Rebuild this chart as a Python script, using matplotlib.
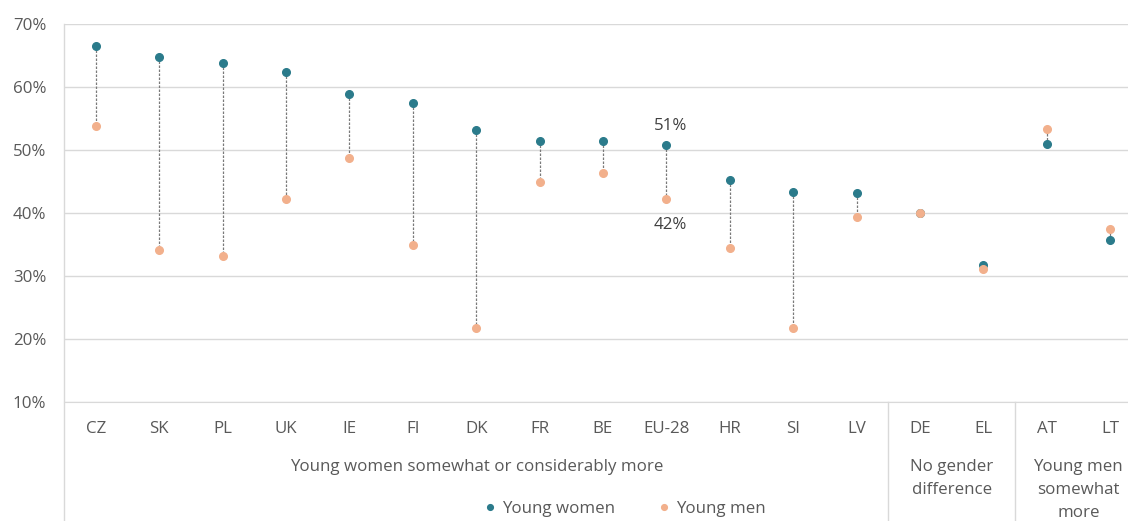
import matplotlib
matplotlib.use("Agg")
import matplotlib.pyplot as plt
from matplotlib.lines import Line2D

countries = ["CZ", "SK", "PL", "UK", "IE", "FI", "DK", "FR", "BE", "EU-28",
             "HR", "SI", "LV", "DE", "EL", "AT", "LT"]
young_women = [66.5, 64.8, 63.8, 62.4, 58.9, 57.5, 53.2, 51.5, 51.4, 50.8,
               45.2, 43.3, 43.2, 40.0, 31.7, 50.9, 35.7]
young_men = [53.8, 34.2, 33.2, 42.2, 48.7, 35.0, 21.7, 45.0, 46.3, 42.3,
             34.4, 21.7, 39.4, 40.05, 31.1, 53.4, 37.4]
groups = ["Young women somewhat or considerably more",
          "No gender\ndifference",
          "Young men\nsomewhat\nmore"]
group_spans = [(0, 12), (13, 14), (15, 16)]
yticks = [10, 20, 30, 40, 50, 60, 70]
eu_labels = ["51%", "42%"]

plt.rcParams['font.family'] = ['Open Sans', 'DejaVu Sans']

W, H = 1128, 521
fig = plt.figure(figsize=(W / 100, H / 100), dpi=100)
left_px, right_px = 64.3, 1141.7
top_px, bot_px = 24, 402
ax = fig.add_axes([left_px / W, (H - bot_px) / H,
                   (right_px - left_px) / W, (bot_px - top_px) / H])

teal = "#2b7b8b"
peach = "#f2b08c"
grid_c = "#d9d9d9"
txt_c = "#595959"
fs = 12.2

x = list(range(len(countries)))
for xi, w, m in zip(x, young_women, young_men):
    ax.plot([xi, xi], [w, m], color="#7a7a7a", lw=0.9, ls=(0, (2, 1.2)), zorder=2)
ax.plot(x, young_women, 'o', color=teal, ms=5.5, ls='none', zorder=3, label="Young women")
ax.plot(x, young_men, 'o', color=peach, ms=5.5, ls='none', zorder=4, label="Young men")

ax.set_xlim(-0.5, len(countries) - 0.5)
ax.set_ylim(10, 70)
ax.set_yticks(yticks)
ax.set_yticklabels([f"{v}%" for v in yticks], color=txt_c, fontsize=fs)
ax.yaxis.grid(True, color=grid_c, lw=1)
ax.set_axisbelow(True)
ax.tick_params(axis='y', length=0, pad=13)
ax.set_xticks(x)
ax.set_xticklabels(countries, color=txt_c, fontsize=fs)
ax.tick_params(axis='x', length=0, pad=14)
for s in ["top", "right", "left"]:
    ax.spines[s].set_visible(False)
ax.spines["bottom"].set_color(grid_c)

# EU-28 annotations
ie = countries.index("EU-28")
ax.annotate(eu_labels[0], (ie, young_women[ie]), xytext=(3, 8), textcoords='offset points',
            ha='center', va='bottom', fontsize=fs, color="#404040")
ax.annotate(eu_labels[1], (ie, young_men[ie]), xytext=(3, -13), textcoords='offset points',
            ha='center', va='top', fontsize=fs, color="#404040")

# left line and separators
fig.add_artist(Line2D([left_px / W, left_px / W], [0, (H - top_px) / H],
                      transform=fig.transFigure, color=grid_c, lw=1))
trans = ax.get_xaxis_transform()
for a, b in group_spans[:-1]:
    ax.plot([b + 0.5, b + 0.5], [0, -0.35], transform=trans, color=grid_c, lw=1, clip_on=False)

# group labels
for (a, b), g in zip(group_spans, groups):
    ax.text((a + b) / 2, -0.15, g, transform=trans, ha='center', va='top',
            fontsize=fs, color=txt_c, linespacing=1.6)

fig.legend(loc='center', bbox_to_anchor=(625 / W, (H - 509) / H), ncol=2, frameon=False,
           fontsize=fs, labelcolor=txt_c, handlelength=0.6, handletextpad=0.4,
           columnspacing=2.6, markerscale=0.75, borderpad=0.1)

fig.savefig("out.png", dpi=100)
